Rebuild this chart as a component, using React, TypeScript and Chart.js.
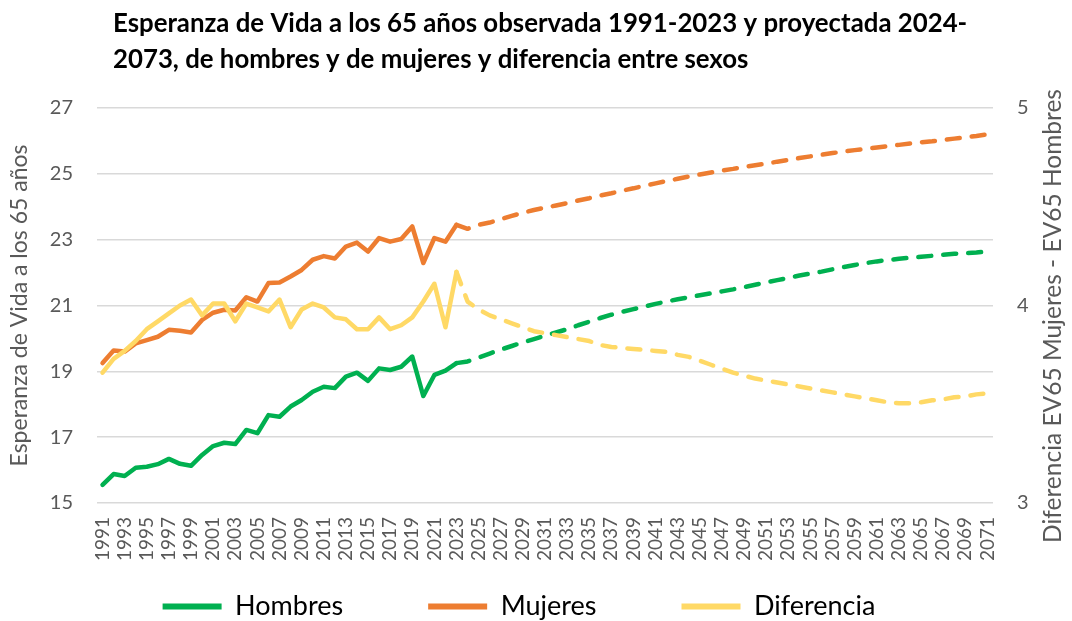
import React, { useEffect, useRef } from 'react';
import { Chart, registerables } from 'chart.js';

Chart.register(...registerables);

const years = [
  '1991', '1992', '1993', '1994', '1995', '1996', '1997', '1998', '1999', '2000',
  '2001', '2002', '2003', '2004', '2005', '2006', '2007', '2008', '2009', '2010',
  '2011', '2012', '2013', '2014', '2015', '2016', '2017', '2018', '2019', '2020',
  '2021', '2022', '2023', '2024', '2025', '2026', '2027', '2028', '2029', '2030',
  '2031', '2032', '2033', '2034', '2035', '2036', '2037', '2038', '2039', '2040',
  '2041', '2042', '2043', '2044', '2045', '2046', '2047', '2048', '2049', '2050',
  '2051', '2052', '2053', '2054', '2055', '2056', '2057', '2058', '2059', '2060',
  '2061', '2062', '2063', '2064', '2065', '2066', '2067', '2068', '2069', '2070',
  '2071',
];

// Observed 1991-2023
const hombresObservado = [
  15.55, 15.88, 15.82, 16.07, 16.10, 16.18, 16.34, 16.19, 16.13, 16.46,
  16.73, 16.83, 16.79, 17.22, 17.12, 17.67, 17.62, 17.93, 18.13, 18.38,
  18.53, 18.49, 18.84, 18.96, 18.71, 19.09, 19.04, 19.14, 19.45, 18.25,
  18.89, 19.02, 19.25,
];
const mujeresObservado = [
  19.25, 19.63, 19.60, 19.85, 19.95, 20.05, 20.26, 20.23, 20.18, 20.56,
  20.78, 20.87, 20.85, 21.25, 21.12, 21.68, 21.70, 21.88, 22.08, 22.39,
  22.50, 22.43, 22.79, 22.91, 22.64, 23.05, 22.94, 23.02, 23.40, 22.29,
  23.05, 22.94, 23.45,
];
const diferenciaObservada = [
  3.66, 3.73, 3.77, 3.82, 3.88, 3.92, 3.96, 4.00, 4.03, 3.95,
  4.01, 4.01, 3.92, 4.01, 3.99, 3.97, 4.03, 3.89, 3.98, 4.01,
  3.99, 3.94, 3.93, 3.88, 3.88, 3.94, 3.88, 3.90, 3.94, 4.02,
  4.11, 3.89, 4.17,
];

// Projected 2024-2071
const hombresProyectado = [
  19.30, 19.42, 19.54, 19.66, 19.77, 19.88, 19.98, 20.08, 20.18, 20.28,
  20.40, 20.51, 20.62, 20.72, 20.81, 20.89, 20.97, 21.05, 21.12, 21.19,
  21.25, 21.31, 21.37, 21.43, 21.49, 21.56, 21.63, 21.70, 21.77, 21.84,
  21.91, 21.97, 22.03, 22.10, 22.17, 22.23, 22.29, 22.34, 22.38, 22.42,
  22.45, 22.48, 22.51, 22.54, 22.57, 22.59, 22.61, 22.64,
];
const mujeresProyectado = [
  23.33, 23.45, 23.52, 23.62, 23.72, 23.82, 23.90, 23.97, 24.04, 24.11,
  24.19, 24.26, 24.34, 24.41, 24.49, 24.56, 24.64, 24.71, 24.78, 24.85,
  24.92, 24.98, 25.04, 25.10, 25.15, 25.21, 25.26, 25.31, 25.37, 25.42,
  25.48, 25.53, 25.58, 25.63, 25.68, 25.72, 25.76, 25.80, 25.84, 25.88,
  25.92, 25.96, 25.99, 26.03, 26.07, 26.11, 26.15, 26.20,
];
const diferenciaProyectada = [
  4.02, 3.98, 3.95, 3.93, 3.91, 3.89, 3.87, 3.86, 3.85, 3.84,
  3.83, 3.82, 3.80, 3.79, 3.785, 3.78, 3.775, 3.77, 3.765, 3.75,
  3.74, 3.72, 3.70, 3.68, 3.66, 3.645, 3.63, 3.62, 3.61, 3.60,
  3.59, 3.58, 3.57, 3.56, 3.55, 3.54, 3.53, 3.52, 3.51, 3.505,
  3.505, 3.51, 3.52, 3.525, 3.535, 3.54, 3.55, 3.555,
];

const titleLines = [
  'Esperanza de Vida a los 65 años observada 1991-2023 y proyectada 2024-',
  '2073, de hombres y de mujeres y diferencia entre sexos',
];
const leftAxisTitle = 'Esperanza de Vida a los 65 años';
const rightAxisTitle = 'Diferencia EV65 Mujeres - EV65 Hombres';
const seriesNames = ['Hombres', 'Mujeres', 'Diferencia'];

const GREEN = '#00B050';
const ORANGE = '#ED7D31';
const YELLOW = '#FFD966';
const GRAY = '#595959';
const FONT = 'Lato';
const X_TICK_SIZE = 19;

const lastObservedIndex = hombresObservado.length - 1;
const DASH = [13, 12];

const textPlugin = {
  id: 'textPlugin',
  afterDraw(chart: any) {
    const { ctx } = chart;
    ctx.save();
    ctx.fillStyle = '#000000';
    ctx.font = `bold 25.8px ${FONT}`;
    ctx.textBaseline = 'middle';
    ctx.textAlign = 'left';
    titleLines.forEach((t, i) => ctx.fillText(t, 113, 24 + i * 36));
    ctx.fillStyle = GRAY;
    ctx.font = `24.5px ${FONT}`;
    ctx.translate(1053, 316);
    ctx.rotate(-Math.PI / 2);
    ctx.textAlign = 'center';
    ctx.fillText(rightAxisTitle, 0, 0);
    ctx.restore();
  },
};

function lineDataset(label: string, color: string, obs: number[], proj: number[], axis: string) {
  return {
    label,
    data: [...obs, ...proj],
    yAxisID: axis,
    borderColor: color,
    backgroundColor: color,
    borderWidth: 4.5,
    borderCapStyle: 'round' as const,
    borderJoinStyle: 'round' as const,
    pointRadius: 0,
    pointHoverRadius: 0,
    tension: 0,
    fill: false,
    segment: {
      borderDash: (ctx: any) => (ctx.p0DataIndex >= lastObservedIndex ? DASH : undefined),
    },
  };
}

export default function App() {
  const ref = useRef<HTMLCanvasElement>(null);

  useEffect(() => {
    Chart.defaults.font.family = FONT;
    const chart = new Chart(ref.current!, {
      type: 'line',
      data: {
        labels: years,
        datasets: [
          lineDataset(seriesNames[2], YELLOW, diferenciaObservada, diferenciaProyectada, 'y1'),
          lineDataset(seriesNames[1], ORANGE, mujeresObservado, mujeresProyectado, 'y'),
          lineDataset(seriesNames[0], GREEN, hombresObservado, hombresProyectado, 'y'),
        ],
      },
      options: {
        animation: false,
        responsive: true,
        maintainAspectRatio: false,
        layout: { padding: { top: 108, right: 34, left: 0, bottom: 0 } },
        plugins: {
          title: { display: false },
          tooltip: { enabled: false },
          legend: {
            position: 'bottom',
            reverse: true,
            labels: {
              boxWidth: 59,
              boxHeight: 6,
              padding: 85,
              color: '#000000',
              font: { family: FONT, size: 27 },
              generateLabels: (c: any) =>
                (Chart.defaults.plugins.legend.labels.generateLabels as any)(c).map((l: any) => ({
                  ...l,
                  lineWidth: 0,
                  lineDash: [],
                  fillStyle: l.strokeStyle,
                })),
            },
          },
        },
        scales: {
          x: {
            offset: true,
            grid: { display: false, drawTicks: false },
            border: { display: false },
            ticks: {
              autoSkip: false,
              minRotation: 90,
              maxRotation: 90,
              mirror: true,
              padding: -14,
              labelOffset: X_TICK_SIZE * 1.2,
              color: GRAY,
              font: { family: FONT, size: X_TICK_SIZE },
              callback: (_v: any, i: number) => (i % 2 === 0 ? years[i] : ''),
            },
            afterFit: (s: any) => {
              s.height = 5;
            },
          },
          y: {
            position: 'left',
            min: 15,
            max: 27,
            grid: { color: '#D9D9D9', lineWidth: 1.5, drawTicks: false },
            border: { display: false },
            ticks: {
              stepSize: 2,
              padding: 24,
              color: GRAY,
              font: { family: FONT, size: 20 },
            },
            title: {
              display: true,
              text: leftAxisTitle,
              color: GRAY,
              font: { family: FONT, size: 23 },
              padding: { top: 6, bottom: 0 },
            },
            afterFit: (s: any) => {
              s.width = 97;
            },
          },
          y1: {
            position: 'right',
            min: 3,
            max: 5,
            grid: { display: false, drawTicks: false },
            border: { display: false },
            ticks: {
              stepSize: 1,
              padding: 24,
              color: GRAY,
              font: { family: FONT, size: 20 },
            },
            afterFit: (s: any) => {
              s.width = 45;
            },
          },
        },
      },
      plugins: [textPlugin],
    } as any);
    return () => chart.destroy();
  }, []);

  return (
    <div
      style={{
        position: 'fixed',
        left: 0,
        top: 0,
        width: 1072,
        height: 621,
        overflow: 'hidden',
        background: '#ffffff',
      }}
    >
      <div style={{ position: 'relative', width: 1072, height: 630 }}>
        <canvas ref={ref} />
      </div>
    </div>
  );
}
